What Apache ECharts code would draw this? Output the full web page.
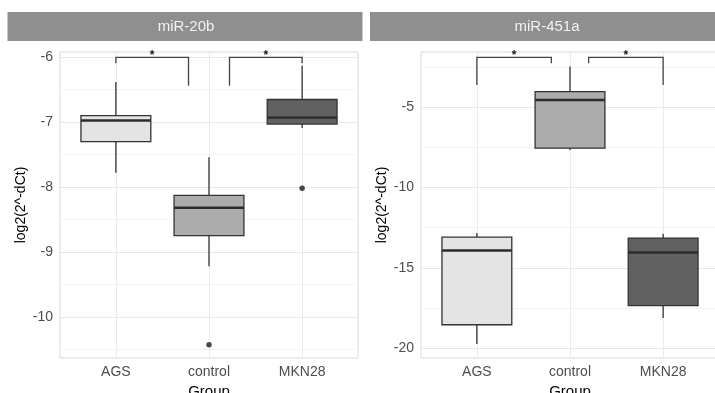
<!DOCTYPE html>
<html>
<head>
<meta charset="utf-8">
<script src="https://cdn.jsdelivr.net/npm/echarts@6/dist/echarts.min.js"></script>
<style>
  html, body { margin: 0; padding: 0; background: #ffffff; }
  #chart { width: 715px; height: 393px; }
</style>
</head>
<body>
<div id="chart"></div>
<script>
// Groups on the x axis (positions 1, 2, 3)
const groups = ['AGS', 'control', 'MKN28'];

// Box summaries per group: [lower whisker, Q1, median, Q3, upper whisker]
const mir20bBoxes = [
  [-7.78, -7.30, -6.975, -6.90, -6.38],
  [-9.22, -8.75, -8.32, -8.13, -7.54],
  [-7.09, -7.03, -6.93, -6.65, -6.13]
];
const mir451aBoxes = [
  [-19.75, -18.55, -13.92, -13.09, -12.84],
  [-7.66, -7.55, -4.55, -4.03, -2.47],
  [-18.13, -17.36, -14.05, -13.15, -12.88]
];

// Outlying points: [group position, value]
const mir20bOutliers = [[2, -10.43], [3, -8.02]];
const mir451aOutliers = [];

// Significance brackets: [x start, x end, bar level, left tip end, right tip end]
const mir20bBrackets = [[1, 1.78, -6.0, -6.09, -6.44], [2.22, 3, -6.0, -6.44, -6.09]];
const mir451aBrackets = [[1, 1.8, -1.89, -3.61, -2.26], [2.2, 3, -1.89, -2.26, -3.61]];
const mir20bSignif = ['*', '*'];
const mir451aSignif = ['*', '*'];

// Y tick labels per panel
const mir20bTicks = [-10, -9, -8, -7, -6];
const mir451aTicks = [-20, -15, -10, -5];

const boxFills = ['#e4e4e4', '#acacac', '#616161'];
const FONT = 'Liberation Sans, Arial, sans-serif';

function withHalfSteps(ticks, lo) {
  const step = ticks[1] - ticks[0];
  const out = [];
  ticks.forEach(t => {
    if (t - step / 2 > lo) out.push(t - step / 2);
    out.push(t);
  });
  out.push(ticks[ticks.length - 1] + step / 2);
  return out;
}

function renderBox(params, api) {
  const x = api.value(0);
  const lo = api.coord([x, api.value(1)]);
  const q1 = api.coord([x, api.value(2)]);
  const md = api.coord([x, api.value(3)]);
  const q3 = api.coord([x, api.value(4)]);
  const hi = api.coord([x, api.value(5)]);
  const half = api.size([0.75, 0])[0] / 2;
  const edge = { stroke: '#333333', lineWidth: 1.3 };
  return {
    type: 'group',
    children: [
      { type: 'line', shape: { x1: hi[0], y1: hi[1], x2: q3[0], y2: q3[1] }, style: edge },
      { type: 'line', shape: { x1: q1[0], y1: q1[1], x2: lo[0], y2: lo[1] }, style: edge },
      { type: 'rect', shape: { x: q3[0] - half, y: q3[1], width: half * 2, height: q1[1] - q3[1] },
        style: { fill: boxFills[params.dataIndex], stroke: '#333333', lineWidth: 1.3 } },
      { type: 'line', shape: { x1: md[0] - half, y1: md[1], x2: md[0] + half, y2: md[1] },
        style: { stroke: '#2b2b2b', lineWidth: 2.4 } }
    ]
  };
}

function bracketRenderer(labels) {
  return function (params, api) {
    const a = api.coord([api.value(0), api.value(2)]);
    const b = api.coord([api.value(1), api.value(2)]);
    const ta = api.coord([api.value(0), api.value(3)]);
    const tb = api.coord([api.value(1), api.value(4)]);
    return {
      type: 'group',
      children: [
        { type: 'polyline', shape: { points: [ta, a, b, tb] },
          style: { stroke: '#444444', lineWidth: 1.3, fill: null } },
        { type: 'text', x: (a[0] + b[0]) / 2, y: a[1] - 1.5,
          style: { text: labels[params.dataIndex], align: 'center', verticalAlign: 'middle',
                   font: 'bold 12px ' + FONT, fill: '#1a1a1a' } }
      ]
    };
  };
}

function xAxisFor(gridIndex) {
  return {
    type: 'value', gridIndex, min: 0.4, max: 3.6,
    name: 'Group', nameLocation: 'middle', nameGap: 22,
    nameTextStyle: { color: '#000000', fontSize: 15, fontFamily: FONT },
    axisLine: { show: false },
    axisTick: { show: false, customValues: [1, 2, 3] },
    axisLabel: { customValues: [1, 2, 3], margin: 7, color: '#4d4d4d', fontSize: 14, fontFamily: FONT,
                 formatter: v => groups[Math.round(v) - 1] },
    splitLine: { show: true, lineStyle: { color: '#ebebeb', width: 1 } }
  };
}

function yAxisFor(gridIndex, min, max, ticks) {
  const lines = withHalfSteps(ticks, min);
  const firstIsMajor = ticks.includes(lines[0]);
  return {
    type: 'value', gridIndex, min, max,
    name: 'log2(2^-dCt)', nameLocation: 'middle', nameGap: 32,
    nameTextStyle: { color: '#000000', fontSize: 14, fontFamily: FONT },
    axisLine: { show: false },
    axisTick: { show: false, customValues: lines },
    axisLabel: { customValues: ticks, margin: 7, color: '#4d4d4d', fontSize: 14, fontFamily: FONT },
    splitLine: { show: true, showMinLine: true, showMaxLine: true,
                 lineStyle: { color: firstIsMajor ? ['#e8e8e8', '#f4f4f4'] : ['#f4f4f4', '#e8e8e8'], width: 1 } }
  };
}

function boxData(boxes) {
  return boxes.map((b, i) => [i + 1].concat(b));
}

const chart = echarts.init(document.getElementById('chart'), null, { renderer: 'canvas' });

chart.setOption({
  animation: false,
  backgroundColor: '#ffffff',
  grid: [
    { left: 60, top: 52, width: 298, height: 306, outerBoundsMode: 'none', containLabel: false,
      show: true, borderColor: '#d9d9d9', borderWidth: 1, backgroundColor: 'transparent' },
    { left: 421, top: 52, width: 298, height: 306, outerBoundsMode: 'none', containLabel: false,
      show: true, borderColor: '#d9d9d9', borderWidth: 1, backgroundColor: 'transparent' }
  ],
  xAxis: [xAxisFor(0), xAxisFor(1)],
  yAxis: [
    yAxisFor(0, -10.636, -5.918, mir20bTicks),
    yAxisFor(1, -20.62, -1.56, mir451aTicks)
  ],
  graphic: [
    { type: 'rect', left: 7.5, top: 12, shape: { width: 355, height: 29 }, style: { fill: '#8f8f8f' }, silent: true },
    { type: 'rect', left: 370, top: 12, shape: { width: 360, height: 29 }, style: { fill: '#8f8f8f' }, silent: true },
    { type: 'text', x: 186, y: 27, style: { text: 'miR-20b', align: 'center', verticalAlign: 'middle', font: '15px ' + FONT, fill: '#f2f2f2' }, silent: true },
    { type: 'text', x: 547, y: 27, style: { text: 'miR-451a', align: 'center', verticalAlign: 'middle', font: '15px ' + FONT, fill: '#f2f2f2' }, silent: true }
  ],
  series: [
    { type: 'custom', xAxisIndex: 0, yAxisIndex: 0, renderItem: renderBox,
      encode: { x: 0, y: [1, 2, 3, 4, 5] }, data: boxData(mir20bBoxes), clip: false },
    { type: 'scatter', xAxisIndex: 0, yAxisIndex: 0, data: mir20bOutliers, symbolSize: 5.5,
      itemStyle: { color: '#1a1a1a' } },
    { type: 'custom', xAxisIndex: 0, yAxisIndex: 0, renderItem: bracketRenderer(mir20bSignif),
      encode: { x: [0, 1], y: [2, 3, 4] }, data: mir20bBrackets, clip: false },
    { type: 'custom', xAxisIndex: 1, yAxisIndex: 1, renderItem: renderBox,
      encode: { x: 0, y: [1, 2, 3, 4, 5] }, data: boxData(mir451aBoxes), clip: false },
    { type: 'scatter', xAxisIndex: 1, yAxisIndex: 1, data: mir451aOutliers, symbolSize: 5.5,
      itemStyle: { color: '#1a1a1a' } },
    { type: 'custom', xAxisIndex: 1, yAxisIndex: 1, renderItem: bracketRenderer(mir451aSignif),
      encode: { x: [0, 1], y: [2, 3, 4] }, data: mir451aBrackets, clip: false }
  ]
});
</script>
</body>
</html>
